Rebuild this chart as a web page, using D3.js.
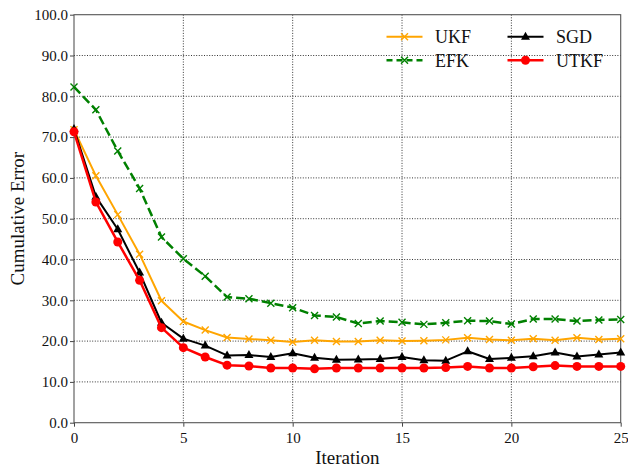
<!DOCTYPE html>
<html><head><meta charset="utf-8">
<script src="https://cdn.jsdelivr.net/npm/d3@7"></script>
<style>body{margin:0;background:#fff}svg{display:block}svg text{font-family:"Liberation Serif","Times New Roman","DejaVu Serif",serif !important}</style>
</head><body>
<svg id="c" width="628" height="468"></svg>
<script>
const iterations = d3.range(0, 26);
const ukf  = [71.8,60.5,51.0,41.3,29.9,24.8,22.7,20.9,20.5,20.2,19.8,20.2,19.9,19.9,20.2,20.0,20.1,20.3,20.8,20.4,20.2,20.6,20.2,20.8,20.4,20.6];
const efk  = [82.3,76.7,66.6,57.4,45.5,40.2,35.9,30.8,30.4,29.3,28.2,26.3,25.9,24.3,24.9,24.6,24.1,24.5,25.0,24.9,24.2,25.4,25.4,24.9,25.2,25.3];
const sgd  = [72.0,55.4,47.4,36.8,24.5,20.6,18.9,16.5,16.6,16.1,17.0,15.9,15.4,15.5,15.6,16.1,15.3,15.2,17.5,15.6,15.9,16.3,17.2,16.2,16.7,17.2];
const utkf = [71.3,54.1,44.3,34.9,23.3,18.4,16.1,14.1,13.9,13.4,13.4,13.2,13.4,13.4,13.4,13.4,13.4,13.5,13.8,13.4,13.4,13.7,14.0,13.8,13.8,13.8];
const xTicks = [0,5,10,15,20,25];
const yTicks = [0,10,20,30,40,50,60,70,80,90,100];
const seriesNames = ["UKF","EFK","SGD","UTKF"];

const series = [
  {name:"UKF", data:ukf, color:"#FFA500", width:2, dash:null, marker:"x"},
  {name:"EFK", data:efk, color:"#008000", width:2.5, dash:"9,4", marker:"x"},
  {name:"SGD", data:sgd, color:"#000000", width:2, dash:null, marker:"tri"},
  {name:"UTKF", data:utkf, color:"#FF0000", width:2.5, dash:null, marker:"circle"}
];

const svg = d3.select("#c");
const L=74, R=620.7, T=14.7, B=422.7;
const x = d3.scaleLinear().domain([0,25]).range([L,R]);
const y = d3.scaleLinear().domain([0,100]).range([B,T]);

// grid
const g = svg.append("g");
g.selectAll("line.gx").data(xTicks.slice(1,-1)).enter().append("line")
  .attr("x1",d=>x(d)).attr("x2",d=>x(d)).attr("y1",T).attr("y2",B)
  .attr("stroke","#000").attr("stroke-width",0.8).attr("stroke-dasharray","1,1.6");
g.selectAll("line.gy").data(yTicks.slice(1,-1)).enter().append("line")
  .attr("y1",d=>y(d)).attr("y2",d=>y(d)).attr("x1",L).attr("x2",R)
  .attr("stroke","#000").attr("stroke-width",0.8).attr("stroke-dasharray","1,1.6");

// axes
const xa = svg.append("g").attr("transform",`translate(0,${B})`)
  .call(d3.axisBottom(x).tickValues(xTicks).tickFormat(d3.format("d")).tickSize(4).tickSizeOuter(0));
const ya = svg.append("g").attr("transform",`translate(${L},0)`)
  .call(d3.axisLeft(y).tickValues(yTicks).tickFormat(d3.format(".1f")).tickSize(4).tickSizeOuter(0));
[xa,ya].forEach(a=>{
  a.attr("font-family",null);
  a.select(".domain").remove();
  a.selectAll(".tick line").attr("stroke","#444").attr("stroke-width",1);
  a.selectAll(".tick text").attr("font-size",15).attr("fill","#111");
});
xa.selectAll(".tick text").attr("dy","0.95em").attr("y",6);
ya.selectAll(".tick text").attr("x",-6);

// spines
svg.append("rect").attr("x",L).attr("y",T).attr("width",R-L).attr("height",B-T)
  .attr("fill","none").attr("stroke","#555").attr("stroke-width",1.1);

// labels
svg.append("text").attr("x",(L+R)/2).attr("y",464).attr("text-anchor","middle")
  .attr("font-size",19).attr("fill","#111").text("Iteration");
svg.append("text").attr("transform",`translate(24,${(T+B)/2}) rotate(-90)`).attr("text-anchor","middle")
  .attr("font-size",19).attr("fill","#111").text("Cumulative Error");

function drawMarker(sel, type, color, cx, cy){
  if(type==="x"){
    const s=3.5;
    sel.append("path").attr("d",`M${cx-s},${cy-s}L${cx+s},${cy+s}M${cx-s},${cy+s}L${cx+s},${cy-s}`)
      .attr("stroke",color).attr("stroke-width",1.4).attr("fill","none");
  } else if(type==="tri"){
    const s=5;
    sel.append("path").attr("d",`M${cx},${cy-s}L${cx+s*0.9},${cy+s*0.6}L${cx-s*0.9},${cy+s*0.6}Z`).attr("fill",color);
  } else {
    sel.append("circle").attr("cx",cx).attr("cy",cy).attr("r",4.5).attr("fill",color);
  }
}

const line = d3.line().x((d,i)=>x(iterations[i])).y(d=>y(d));
const plot = svg.append("g");
series.forEach(s=>{
  plot.append("path").datum(s.data).attr("d",line).attr("fill","none")
    .attr("stroke",s.color).attr("stroke-width",s.width)
    .attr("stroke-dasharray",s.dash).attr("stroke-linejoin","round");
  const mg = plot.append("g");
  s.data.forEach((v,i)=>drawMarker(mg,s.marker,s.color,x(iterations[i]),y(v)));
});

// legend
const leg = svg.append("g");
const pos = [[386.5,36.7],[386.5,60.3],[507.5,36.7],[507.5,60.3]];
series.forEach((s,i)=>{
  const [lx,ly]=pos[i];
  leg.append("line").attr("x1",lx).attr("x2",lx+36).attr("y1",ly).attr("y2",ly)
    .attr("stroke",s.color).attr("stroke-width",s.width).attr("stroke-dasharray",s.dash?"6,4":null);
  drawMarker(leg,s.marker,s.color,lx+18,ly);
  leg.append("text").attr("x",lx+48.5).attr("y",ly).attr("dy","0.35em")
    .attr("font-size",18).attr("fill","#111").text(seriesNames[i]);
});
</script>
</body></html>
